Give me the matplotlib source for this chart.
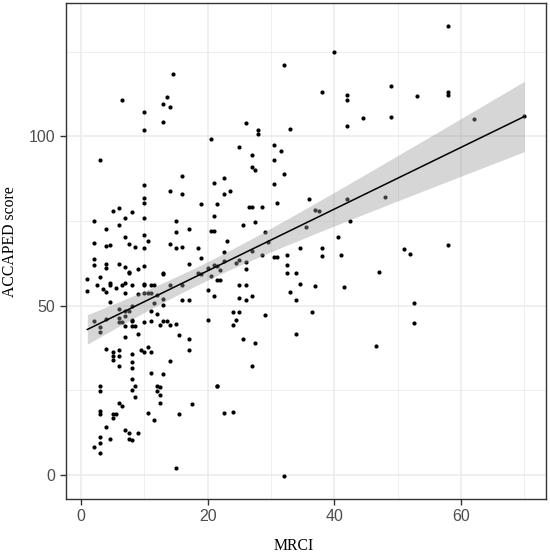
import numpy as np
import matplotlib
matplotlib.use("Agg")
import matplotlib.pyplot as plt

plt.rcParams["font.family"] = ["Liberation Sans", "DejaVu Sans"]

# ---- data ----
mrci_a = [14.5, 6.5, 13.5, 13, 14, 10, 13, 10, 20.5, 3, 16, 10, 21, 14, 16, 10, 10, 19, 21.5, 6,
          5, 8, 2, 7, 10, 15, 21, 6, 4, 17, 15, 20.5, 21, 7, 10, 10.5, 2, 4, 4.5, 7.5,
          8.5, 10, 14, 15, 16, 18.5]
acc_a = [118.3, 110.7, 111.7, 109.7, 108.7, 107.1, 104.2, 101.9, 99.2, 93.0, 88.3, 85.7, 86.3, 83.9, 83.1, 81.7, 80.2, 79.9, 80.0, 79.0,
         77.9, 77.6, 75.1, 75.9, 75.8, 74.9, 76.6, 73.8, 72.8, 72.8, 71.7, 72.0, 72.0, 70.2, 71.0, 69.2, 68.6, 67.5, 68.0, 68.2,
         67.3, 67.1, 68.1, 67.1, 67.4, 66.9]

mrci_b = [2, 2, 4, 6, 7, 9, 10, 7.5, 7.5, 4, 1, 3, 13, 13, 1, 2.5, 3.5, 4, 4.5, 4.5,
          5.5, 4.5, 6.5, 7, 7, 8, 9, 10, 10, 11, 11.5, 10, 10.5, 11, 12, 11.5, 13, 13, 14, 16,
          16, 17, 20, 20.5, 21, 20, 19, 18.5, 17, 21.5]
acc_b = [63.8, 62.1, 62.4, 62.3, 61.3, 60.8, 61.8, 60.0, 59.7, 61.0, 57.9, 58.4, 59.7, 59.3, 54.4, 56.2, 54.9, 54.1, 56.7, 56.2,
         55.1, 51.2, 56.2, 56.7, 53.8, 56.0, 53.6, 56.2, 56.4, 56.2, 56.0, 53.7, 53.7, 53.7, 53.3, 50.8, 52.1, 50.1, 56.2, 56.2,
         51.7, 51.8, 61.2, 58.7, 52.8, 54.7, 59.4, 59.7, 62.4, 57.7]

mrci_c = [2, 3, 3, 4, 6, 6, 6, 6.5, 7, 7, 7.5, 8, 8, 8, 7, 8, 8.5, 7, 9, 10,
          11, 11, 12, 12.5, 13, 13.5, 14, 15, 15.5, 17, 17, 20]
acc_c = [45.6, 43.7, 42.2, 46.2, 49.0, 46.4, 45.1, 45.1, 48.3, 47.0, 48.5, 49.8, 45.9, 45.4, 43.9, 43.9, 43.9, 40.9, 41.6, 45.2,
         45.5, 48.3, 47.6, 44.2, 45.6, 45.4, 44.2, 44.6, 41.2, 40.1, 37.0, 45.8]

mrci_d = [4, 5, 5, 5, 6, 6, 6, 8, 8, 8, 9.5, 10, 10.5, 11, 14, 11, 13, 8, 8, 8.5,
          8.5, 3, 3, 12, 12.5, 12, 12.5, 12.5, 6, 6.5, 17.5, 21.5, 3, 3, 4, 5, 5.5, 5, 10.5, 11.5,
          15.5, 2, 3, 3, 3, 4.5, 7, 7.5, 7.5, 8, 9, 15]
acc_d = [37.2, 36.2, 35.0, 34.0, 36.8, 35.0, 32.1, 35.8, 33.3, 31.5, 37.0, 36.3, 37.8, 36.3, 33.8, 30.1, 29.9, 28.4, 25.2, 26.4,
         23.0, 26.4, 24.9, 26.4, 25.9, 24.9, 23.5, 21.4, 21.2, 20.5, 20.9, 26.4, 18.8, 18.1, 14.1, 18.1, 18.1, 16.8, 18.3, 16.3,
         18.0, 8.2, 11.3, 9.4, 6.4, 10.7, 13.4, 12.4, 10.7, 10.4, 12.5, 2.0]

mrci_e = [22.5, 22.5, 23.5, 23, 40, 32, 38, 42, 42, 44.5, 42, 26, 28, 28, 33, 25, 27, 30.5, 30.5, 31.5,
          27, 27.5, 32, 30.5, 31, 26.5, 27, 28.5, 36, 25.5, 27.5, 29, 29.5, 35.5, 37, 37.5, 42, 42.5, 40.5, 34.5,
          38]
acc_e = [87.6, 83.0, 83.9, 69.2, 124.9, 121.0, 113.1, 112.1, 110.8, 105.3, 103.0, 104.1, 101.9, 100.8, 102.1, 96.9, 94.4, 97.6, 93.0, 95.8,
         91.0, 90.2, 88.9, 86.0, 80.3, 79.1, 79.1, 79.1, 81.6, 73.9, 74.7, 71.8, 68.8, 73.2, 78.2, 77.9, 81.4, 74.9, 70.2, 67.1,
         67.1]

mrci_f = [19, 21, 21.5, 22, 22, 22.5, 22.5, 24.5, 25, 26, 26, 27, 28.5, 30.5, 31, 32.5, 32.5, 32.5, 34, 38,
          41, 47, 25, 26, 34.5, 37, 41.5, 25, 26, 27, 33, 34, 24, 25, 24.5, 24, 29, 36.5, 25.5, 27.5,
          34, 27, 21.5, 22.5, 24, 32, 46.5]
acc_f = [64.1, 62.1, 61.6, 60.4, 57.7, 65.9, 63.1, 62.6, 63.6, 62.8, 60.7, 66.1, 65.1, 64.4, 64.4, 65.1, 61.9, 59.7, 59.8, 64.8,
         65.1, 60.1, 56.2, 56.0, 56.4, 55.9, 55.6, 52.4, 51.7, 52.8, 54.0, 51.7, 48.1, 48.1, 45.8, 44.2, 47.3, 48.1, 40.1, 39.0,
         41.6, 32.2, 26.2, 18.2, 18.7, -0.3, 38.0]

mrci_g = [58, 49, 53, 58, 58, 49, 62, 70, 48, 51, 52, 58, 52.5, 52.5]
acc_g = [132.7, 115.0, 111.9, 113.2, 112.3, 105.8, 105.2, 105.9, 82.0, 66.7, 65.4, 68.0, 50.8, 44.9]

x_ticks = [0, 20, 40, 60]
y_ticks = [0, 50, 100]
x_label = "MRCI"
y_label = "ACCAPED score"

mrci = np.array(mrci_a + mrci_b + mrci_c + mrci_d + mrci_e + mrci_f + mrci_g, dtype=float)
acc = np.array(acc_a + acc_b + acc_c + acc_d + acc_e + acc_f + acc_g, dtype=float)

# ---- linear fit with 95% confidence band (like geom_smooth(method="lm")) ----
n = len(mrci)
slope, intercept = np.polyfit(mrci, acc, 1)
resid = acc - (intercept + slope * mrci)
s = np.sqrt(np.sum(resid ** 2) / (n - 2))
xbar = mrci.mean()
sxx = np.sum((mrci - xbar) ** 2)
xs = np.linspace(mrci.min(), mrci.max(), 200)
yfit = intercept + slope * xs
se = s * np.sqrt(1.0 / n + (xs - xbar) ** 2 / sxx)
tcrit = 1.9685
lo, hi = yfit - tcrit * se, yfit + tcrit * se

# ---- figure ----
fig = plt.figure(figsize=(5.5, 5.52), dpi=100)
ax = fig.add_axes([65.5 / 550, 53.5 / 552, 480.7 / 550, 495.3 / 552])

ax.scatter(mrci, acc, s=9, color="black", linewidths=0, zorder=3)
ax.fill_between(xs, lo, hi, color="#999999", alpha=0.4, linewidth=0, zorder=4)
ax.plot(xs, yfit, color="black", linewidth=1.1, zorder=5)

xr = mrci.max() - mrci.min()
yr = acc.max() - acc.min()
ax.set_xlim(mrci.min() - 0.05 * xr, mrci.max() + 0.05 * xr)
ax.set_ylim(acc.min() - 0.05 * yr, acc.max() + 0.05 * yr)

ax.set_xticks(x_ticks)
ax.set_yticks(y_ticks)
ax.set_xticks([10, 30, 50, 70], minor=True)
ax.set_yticks([25, 75, 125], minor=True)
ax.grid(which="major", color="#EBEBEB", linewidth=1.1, zorder=0)
ax.grid(which="minor", color="#EBEBEB", linewidth=0.55, zorder=0)
ax.set_axisbelow(True)

for sp in ax.spines.values():
    sp.set_color("#333333")
    sp.set_linewidth(1.0)

ax.tick_params(which="major", direction="out", length=4.5, width=1.0, color="#333333",
               labelcolor="#4D4D4D", labelsize=11.5, pad=3)
ax.tick_params(which="minor", length=0)

serif = ["Liberation Serif", "DejaVu Serif"]
fig.text(293.5 / 550, 6.5 / 552, x_label, fontsize=11.3, family=serif,
         ha="center", va="center", color="black")
fig.text(10.5 / 550, (552 - 241.5) / 552, y_label, fontsize=11.3, family=serif,
         ha="center", va="center", rotation=90, color="black")

fig.savefig("out.png", dpi=100)
